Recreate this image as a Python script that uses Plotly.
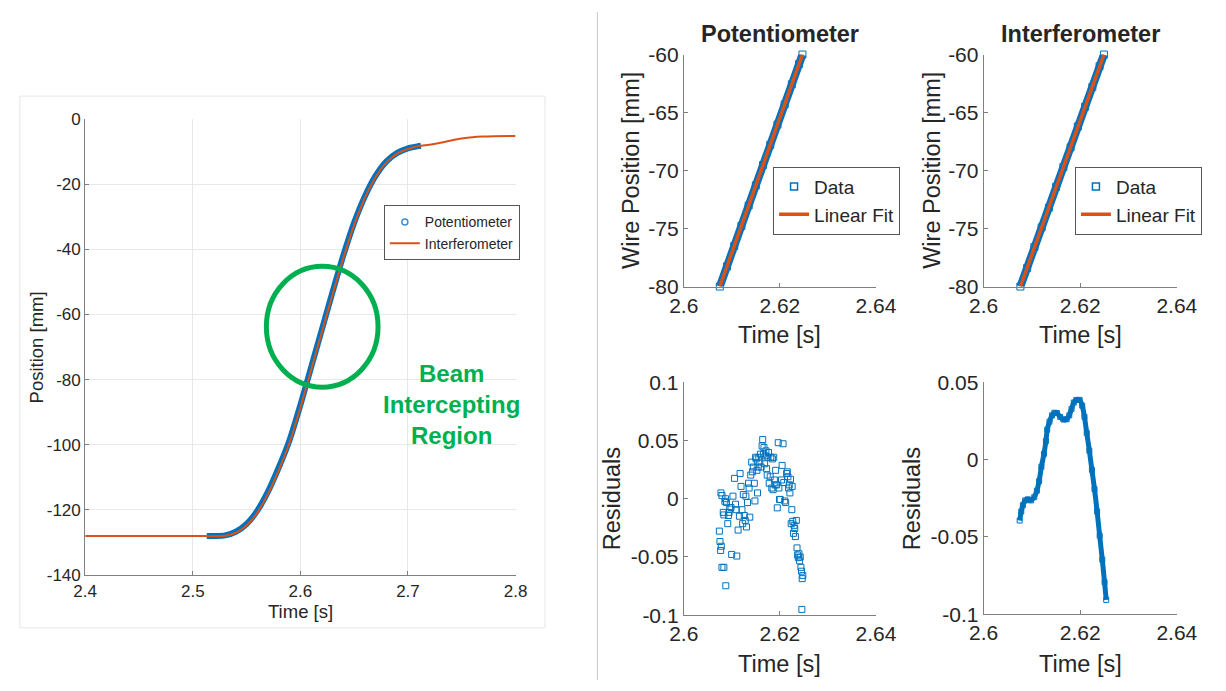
import plotly.graph_objects as go

# ------------------------------------------------------------------ data
overview_t_ticks = [2.4, 2.5, 2.6, 2.7, 2.8]
overview_t_labels = ["2.4", "2.5", "2.6", "2.7", "2.8"]
overview_pos_ticks = [0, -20, -40, -60, -80, -100, -120, -140]
overview_pos_labels = ["0", "-20", "-40", "-60", "-80", "-100", "-120", "-140"]

interf_t = [2.40, 2.45, 2.50, 2.53, 2.54, 2.55, 2.56, 2.57, 2.58, 2.59, 2.60,
            2.61, 2.62, 2.63, 2.64, 2.65, 2.66, 2.67, 2.68, 2.69, 2.70, 2.71,
            2.72, 2.73, 2.74, 2.75, 2.76, 2.77, 2.78, 2.80]
interf_pos = [-128.0, -128.0, -128.0, -127.9, -127.0, -124.8, -120.8, -115.0,
              -107.7, -99.3, -88.6, -77.0, -65.4, -53.8, -42.6, -32.5, -24.2,
              -17.8, -13.3, -10.6, -9.2, -8.3, -7.9, -7.3, -6.6, -6.0, -5.6,
              -5.4, -5.3, -5.2]

pot_t = [2.513, 2.52, 2.53, 2.54, 2.55, 2.56, 2.57, 2.58, 2.59, 2.60, 2.61,
         2.62, 2.63, 2.64, 2.65, 2.66, 2.67, 2.68, 2.69, 2.70, 2.71, 2.712]
pot_pos = [-128.0, -128.0, -127.8, -126.7, -124.3, -120.2, -114.3, -106.9,
           -98.5, -87.8, -76.2, -64.6, -53.0, -41.8, -31.8, -23.7, -17.4,
           -13.0, -10.4, -9.0, -8.3, -8.2]

beam_region_t = [2.5684, 2.6722]
beam_region_pos = [-82.3, -45.2]
beam_label_t = 2.7407
beam_label_pos = -87.6

fit_t_ticks = [2.6, 2.62, 2.64]
fit_t_labels = ["2.6", "2.62", "2.64"]
fit_pos_ticks = [-80, -75, -70, -65, -60]
fit_pos_labels = ["-80", "-75", "-70", "-65", "-60"]

pot_data_t = [2.6075, 2.6090, 2.6105, 2.6120, 2.6135, 2.6150, 2.6165, 2.6180,
              2.6195, 2.6210, 2.6225, 2.6240, 2.6247]
pot_data_pos = [-80.0, -78.26, -76.51, -74.77, -73.02, -71.28, -69.53, -67.79,
                -66.04, -64.30, -62.56, -60.81, -60.0]
pot_fit_t = [2.6075, 2.6247]
pot_fit_pos = [-80.0, -60.0]

int_data_t = [2.6076, 2.6090, 2.6105, 2.6120, 2.6135, 2.6150, 2.6165, 2.6180,
              2.6195, 2.6210, 2.6225, 2.6240, 2.6249]
int_data_pos = [-80.0, -78.4, -76.6, -74.9, -73.2, -71.4, -69.7, -68.0,
                -66.2, -64.5, -62.8, -61.0, -60.0]
int_fit_t = [2.6076, 2.6249]
int_fit_pos = [-80.0, -60.0]

res_pot_ticks = [-0.1, -0.05, 0, 0.05, 0.1]
res_pot_labels = ["-0.1", "-0.05", "0", "0.05", "0.1"]
res_int_ticks = [-0.1, -0.05, 0, 0.05]
res_int_labels = ["-0.1", "-0.05", "0", "0.05"]

pot_res_t = [2.60741, 2.60754, 2.60768, 2.60781, 2.60795, 2.60835, 2.60875,
             2.60774, 2.60795, 2.60822, 2.60835, 2.60855, 2.60869, 2.60889,
             2.60916, 2.60929, 2.60943, 2.60956, 2.60983, 2.60997, 2.61024,
             2.61057, 2.61077, 2.61091, 2.61104, 2.61131, 2.61158, 2.61172,
             2.61192, 2.61212, 2.61226, 2.61239, 2.61259, 2.61279, 2.61293,
             2.61306, 2.61327, 2.61347, 2.61360, 2.61374, 2.61394, 2.61414,
             2.61428, 2.61448, 2.61468, 2.61481, 2.61495, 2.61508, 2.61522,
             2.61535, 2.61549, 2.61562, 2.61582, 2.61596, 2.61609, 2.61630,
             2.61643, 2.61657, 2.61670, 2.61683, 2.61697, 2.61710, 2.61724,
             2.61737, 2.61751, 2.61764, 2.61778, 2.61798, 2.61811, 2.61832,
             2.61845, 2.61859, 2.61872, 2.61886, 2.61899, 2.61912, 2.61933,
             2.61946, 2.61966, 2.61980, 2.61993, 2.62007, 2.62034, 2.62047,
             2.62067, 2.62081, 2.62101, 2.62121, 2.62141, 2.62155, 2.62168,
             2.62182, 2.62195, 2.62209, 2.62222, 2.62236, 2.62249, 2.62256,
             2.62269, 2.62283, 2.62296, 2.62310, 2.62323, 2.62343, 2.62357,
             2.62370, 2.62384, 2.62397, 2.62411, 2.62424, 2.62438, 2.62451,
             2.62465, 2.62478, 2.62458]
pot_res = [-0.0278, -0.0367, -0.0444, -0.0408, -0.0589, -0.0589, -0.0747,
           0.0050, 0.0028, -0.0117, -0.0139, -0.0022, 0.0000, -0.0033,
           -0.0214, -0.0144, -0.0117, -0.0089, -0.0075, -0.0478, 0.0022,
           0.0175, -0.0047, -0.0094, -0.0492, -0.0269, -0.0150, 0.0217,
           0.0106, -0.0094, -0.0214, 0.0036, -0.0144, -0.0186, 0.0022,
           -0.0242, -0.0033, 0.0133, 0.0092, -0.0158, 0.0203, 0.0314,
           0.0231, 0.0272, 0.0133, -0.0019, 0.0356, 0.0342, 0.0244,
           0.0050, 0.0272, 0.0356, 0.0314, 0.0383, 0.0272, 0.0453,
           0.0508, 0.0383, 0.0439, 0.0300, 0.0369, 0.0411, 0.0258,
           0.0203, 0.0356, 0.0397, 0.0133, 0.0189, 0.0356, 0.0092,
           0.0342, 0.0078, 0.0356, 0.0161, 0.0119, 0.0244, 0.0119,
           -0.0078, 0.0481, 0.0092, -0.0006, -0.0006, 0.0161, 0.0286,
           0.0472, 0.0139, -0.0019, -0.0033, 0.0217, 0.0231, 0.0189,
           0.0092, 0.0119, 0.0050, 0.0167, -0.0214, -0.0094, 0.0106,
           -0.0194, -0.0297, -0.0228, -0.0256, -0.0325, -0.0186, -0.0422,
           -0.0483, -0.0506, -0.0472, -0.0533, -0.0500, -0.0589, -0.0622,
           -0.0686, -0.0658, -0.0950]

int_res_t = [2.60745, 2.60778, 2.60812, 2.60859, 2.60913, 2.60980, 2.61047,
             2.61101, 2.61148, 2.61195, 2.61248, 2.61289, 2.61315, 2.61362,
             2.61416, 2.61463, 2.61517, 2.61584, 2.61651, 2.61718, 2.61772,
             2.61819, 2.61866, 2.61919, 2.61986, 2.62040, 2.62087, 2.62134,
             2.62188, 2.62241, 2.62295, 2.62349, 2.62402, 2.62456, 2.62503,
             2.62537]
int_res = [-0.0394, -0.0336, -0.0295, -0.0264, -0.0257, -0.0264, -0.0243,
           -0.0201, -0.0139, -0.0046, 0.0037, 0.0120, 0.0193, 0.0245,
           0.0286, 0.0303, 0.0301, 0.0276, 0.0259, 0.0261, 0.0286,
           0.0328, 0.0369, 0.0386, 0.0386, 0.0349, 0.0276, 0.0172,
           0.0058, -0.0066, -0.0191, -0.0336, -0.0492, -0.0647, -0.0793,
           -0.0907]

# ------------------------------------------------------------------ style
W, H = 1226, 691
BLUE = "#0072BD"
RED = "#D95319"
GREEN = "#00B050"
AX = "#808080"
TXT = "#262626"
FONT = "Liberation Sans, Arial, sans-serif"


def px(x):
    return x / W


def py(y):
    return (H - y) / H


fig = go.Figure()

# ---- overview panel
fig.add_trace(go.Scatter(x=pot_t, y=pot_pos, mode="lines",
                         line=dict(color=BLUE, width=6, shape="spline", smoothing=0.8),
                         showlegend=False, xaxis="x", yaxis="y", hoverinfo="skip"))
fig.add_trace(go.Scatter(x=interf_t, y=interf_pos, mode="lines", name="Interferometer",
                         line=dict(color=RED, width=2, shape="spline", smoothing=0.8),
                         xaxis="x", yaxis="y", legend="legend", legendrank=2))
fig.add_trace(go.Scatter(x=[None], y=[None], mode="markers", name="Potentiometer",
                         marker=dict(symbol="circle-open", size=6, color="#3d8fd6", line=dict(width=1.5)),
                         xaxis="x", yaxis="y", legend="legend", legendrank=1))

# ---- potentiometer linear fit
fig.add_trace(go.Scatter(x=pot_data_t, y=pot_data_pos, mode="lines+markers",
                         line=dict(color=BLUE, width=8),
                         marker=dict(symbol="square-open", size=7, color=BLUE),
                         showlegend=False, xaxis="x2", yaxis="y2", cliponaxis=False))
fig.add_trace(go.Scatter(x=[None], y=[None], mode="markers", name="Data",
                         marker=dict(symbol="square-open", size=7, color=BLUE, line=dict(width=1.5)),
                         xaxis="x2", yaxis="y2", legend="legend2"))
fig.add_trace(go.Scatter(x=pot_fit_t, y=pot_fit_pos, mode="lines", name="Linear Fit",
                         line=dict(color=RED, width=3.5), xaxis="x2", yaxis="y2",
                         legend="legend2"))

# ---- interferometer linear fit
fig.add_trace(go.Scatter(x=int_data_t, y=int_data_pos, mode="lines+markers",
                         line=dict(color=BLUE, width=8),
                         marker=dict(symbol="square-open", size=7, color=BLUE),
                         showlegend=False, xaxis="x3", yaxis="y3", cliponaxis=False))
fig.add_trace(go.Scatter(x=[None], y=[None], mode="markers", name="Data",
                         marker=dict(symbol="square-open", size=7, color=BLUE, line=dict(width=1.5)),
                         xaxis="x3", yaxis="y3", legend="legend3"))
fig.add_trace(go.Scatter(x=int_fit_t, y=int_fit_pos, mode="lines", name="Linear Fit",
                         line=dict(color=RED, width=3.5), xaxis="x3", yaxis="y3",
                         legend="legend3"))

# ---- residuals
fig.add_trace(go.Scatter(x=pot_res_t, y=pot_res, mode="markers",
                         marker=dict(symbol="square-open", size=6, color=BLUE, line=dict(width=1)),
                         showlegend=False, xaxis="x4", yaxis="y4"))
fig.add_trace(go.Scatter(x=int_res_t, y=int_res, mode="lines+markers",
                         line=dict(color=BLUE, width=5, shape="spline", smoothing=0.5),
                         marker=dict(symbol="square-open", size=5, color=BLUE, line=dict(width=1)),
                         showlegend=False, xaxis="x5", yaxis="y5"))


def axis_common(size):
    return dict(showline=True, linecolor=AX, linewidth=1, ticks="inside",
                ticklen=4, tickcolor=AX, tickfont=dict(family=FONT, size=size, color=TXT),
                zeroline=False, showgrid=False, fixedrange=True)


left_x = axis_common(17)
left_x.update(domain=[px(72.3), px(515.7)], range=[2.4, 2.8], tickvals=overview_t_ticks,
              ticktext=overview_t_labels, showgrid=True, gridcolor="#e8e8e8", anchor="y")
left_y = axis_common(17)
left_y.update(domain=[py(582.5), py(110.7)], range=[-140, 0], tickvals=overview_pos_ticks,
              ticktext=overview_pos_labels, showgrid=True, gridcolor="#e8e8e8", anchor="x")

tl_x = axis_common(21)
tl_x.update(domain=[px(689), px(887)], range=[2.6, 2.64], tickvals=fit_t_ticks,
            ticktext=fit_t_labels, anchor="y2")
tl_y = axis_common(21)
tl_y.update(domain=[py(284), py(44)], range=[-80, -60], tickvals=fit_pos_ticks,
            ticktext=fit_pos_labels, anchor="x2")

tr_x = axis_common(21)
tr_x.update(domain=[px(998), px(1197)], range=[2.6, 2.64], tickvals=fit_t_ticks,
            ticktext=fit_t_labels, anchor="y3")
tr_y = axis_common(21)
tr_y.update(domain=[py(284), py(44)], range=[-80, -60], tickvals=fit_pos_ticks,
            ticktext=fit_pos_labels, anchor="x3")

bl_x = axis_common(21)
bl_x.update(domain=[px(689), px(887)], range=[2.6, 2.64], tickvals=fit_t_ticks,
            ticktext=fit_t_labels, anchor="y4")
bl_y = axis_common(21)
bl_y.update(domain=[py(624), py(383)], range=[-0.1, 0.1], tickvals=res_pot_ticks,
            ticktext=res_pot_labels, anchor="x4")

br_x = axis_common(21)
br_x.update(domain=[px(998), px(1197)], range=[2.6, 2.64], tickvals=fit_t_ticks,
            ticktext=fit_t_labels, anchor="y5")
br_y = axis_common(21)
br_y.update(domain=[py(623), py(383)], range=[-0.1, 0.05], tickvals=res_int_ticks,
            ticktext=res_int_labels, anchor="x5")


def legend_box(x_left, y_top, size):
    return dict(x=px(x_left), y=py(y_top), xanchor="left", yanchor="top",
                bgcolor="white", bordercolor="#555555", borderwidth=1,
                font=dict(family=FONT, size=size, color=TXT), itemwidth=30,
                tracegroupgap=0)


annotations = []


def label(text, x, y, size, angle=0, bold=False, color=TXT):
    annotations.append(dict(text=("<b>%s</b>" % text) if bold else text,
                            x=px(x), y=py(y), xref="paper", yref="paper",
                            xanchor="center", yanchor="middle", textangle=angle,
                            showarrow=False, font=dict(family=FONT, size=size, color=color)))


label("Position [mm]", 22, 346.6, 18.5, angle=-90)
label("Time [s]", 294, 620, 18.5)
label("Potentiometer", 788, 23, 23.5, bold=True)
label("Interferometer", 1097.5, 23, 23.5, bold=True)
label("Wire Position [mm]", 634, 164, 23.5, angle=-90)
label("Wire Position [mm]", 944, 164, 23.5, angle=-90)
label("Time [s]", 788, 334, 23.5)
label("Time [s]", 1097.5, 334, 23.5)
label("Residuals", 615, 503, 23.5, angle=-90)
label("Residuals", 924, 503, 23.5, angle=-90)
label("Time [s]", 788, 674, 23.5)
label("Time [s]", 1097.5, 674, 23.5)

annotations.append(dict(text="<b>Beam<br>Intercepting<br>Region</b>", x=beam_label_t,
                        y=beam_label_pos, xref="x", yref="y", xanchor="center",
                        yanchor="middle", showarrow=False, align="center",
                        font=dict(family=FONT, size=24, color=GREEN)))

shapes = [
    # light frame round the overview figure
    dict(type="rect", xref="paper", yref="paper", x0=px(5), x1=px(546), y0=py(637), y1=py(87),
         line=dict(color="#e6e6e6", width=1), layer="below"),
    # separator between the two halves
    dict(type="line", xref="paper", yref="paper", x0=px(600), x1=px(600), y0=0, y1=1,
         line=dict(color="#c8c8c8", width=1)),
    # beam intercepting region
    dict(type="circle", xref="x", yref="y", x0=beam_region_t[0], x1=beam_region_t[1],
         y0=beam_region_pos[0], y1=beam_region_pos[1], line=dict(color=GREEN, width=5)),
]

fig.update_layout(
    width=W, height=H, autosize=False,
    margin=dict(l=0, r=0, t=0, b=0),
    paper_bgcolor="white", plot_bgcolor="white",
    font=dict(family=FONT, color=TXT),
    xaxis=left_x, yaxis=left_y,
    xaxis2=tl_x, yaxis2=tl_y,
    xaxis3=tr_x, yaxis3=tr_y,
    xaxis4=bl_x, yaxis4=bl_y,
    xaxis5=br_x, yaxis5=br_y,
    legend=legend_box(380, 200, 14),
    legend2=legend_box(781, 160, 19),
    legend3=legend_box(1092, 160, 19),
    annotations=annotations,
    shapes=shapes,
)

fig.write_html("out.html")
